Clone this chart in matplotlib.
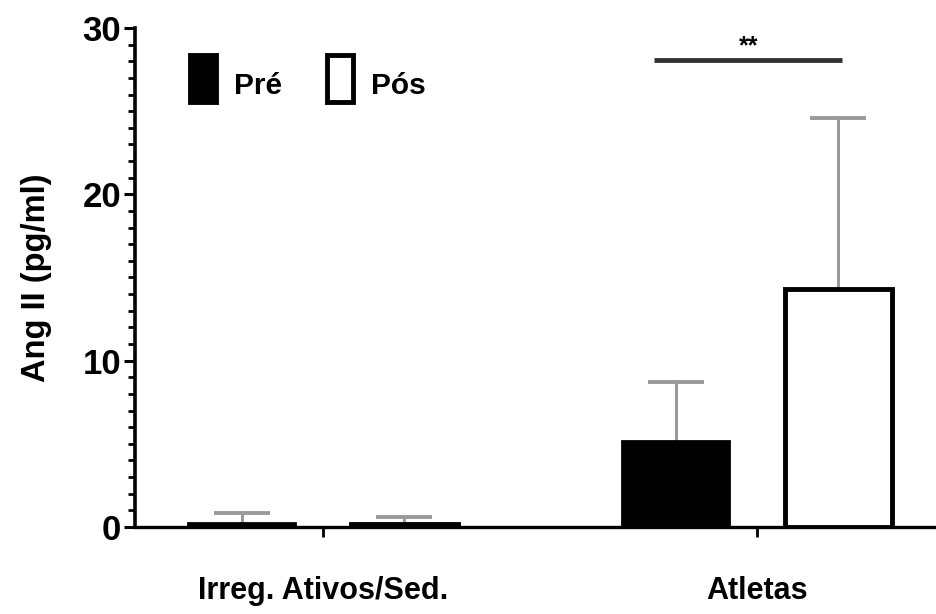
import matplotlib
matplotlib.use("Agg")
import matplotlib.pyplot as plt
import numpy as np
from matplotlib.patches import Rectangle

categories = ["Irreg. Ativos/Sed.", "Atletas"]
pre_means = [0.25, 5.2]
pre_err = [0.6, 3.5]
pos_means = [0.2, 14.3]
pos_err = [0.4, 10.3]
series_labels = ["Pré", "Pós"]
sig_label = "**"
sig_level = 28.1
y_ticks = [0, 10, 20, 30]

plt.rcParams['font.family'] = ['Liberation Sans', 'DejaVu Sans']
plt.rcParams['font.weight'] = 'bold'

fig = plt.figure(figsize=(9.37, 6.14), dpi=100)
ax = fig.add_axes([0.144, 0.1417, 0.856, 0.8127])

x = np.arange(len(categories))
off = 0.187
w = 0.2465
errkw = dict(fmt='none', ecolor='#9a9a9a', elinewidth=2.2, capsize=20, capthick=2.8, zorder=2)
for xs, m, e in [(x - off, pre_means, pre_err), (x + off, pos_means, pos_err)]:
    eb = ax.errorbar(xs, m, yerr=[np.zeros(len(e)), e], **errkw)
    for cl in eb[1]:
        if np.allclose(cl.get_ydata(), m):
            cl.set_visible(False)
ax.bar(x - off, pre_means, w, color='black', edgecolor='black', linewidth=2, zorder=3)
ax.bar(x + off, pos_means, w, color='white', edgecolor='black', linewidth=3.5, zorder=3)
# small values: pos bar of first group renders as a thin black bar
ax.bar(x[:1] + off, pos_means[:1], w, color='black', edgecolor='black', linewidth=2, zorder=4)

ax.set_xlim(-0.433, 1.415)
ax.set_ylim(0, 30)
ax.set_yticks(y_ticks)
ax.set_yticks(np.arange(0, 31, 1), minor=True)
ax.tick_params(axis='y', which='major', length=8, width=2.2, labelsize=25, pad=2)
ax.tick_params(axis='y', which='minor', length=5, width=2)
ax.set_xticks(x)
ax.set_xticklabels(["", ""])
ax.tick_params(axis='x', which='major', length=7, width=2, direction='out')
for i, c in enumerate(categories):
    ax.text(x[i], -3.85, c, ha='center', va='center', fontsize=22, fontweight='bold',
            clip_on=False)
ax.spines['top'].set_visible(False)
ax.spines['right'].set_visible(False)
ax.spines['left'].set_linewidth(2.6)
ax.spines['bottom'].set_linewidth(2.4)
ax.set_ylabel("Ang II (pg/ml)", fontsize=23.5, fontweight='bold', labelpad=22)

# significance
x0, x1 = x[1] - off - 0.05, x[1] + off + 0.01
ax.plot([x0, x1], [sig_level, sig_level], color='#333333', lw=3.5,
        solid_capstyle='butt', zorder=5)
ax.text((x0 + x1) / 2, sig_level + 0.05, sig_label, ha='center',
        va='bottom', fontsize=18, fontweight='bold')

# legend
tr = ax.transAxes
lx = [(190 - 135) / 802, (327 - 135) / 802]
colors = ['black', 'white']
for i, lab in enumerate(series_labels):
    r = Rectangle((lx[i], (527 - 102) / 499), 26 / 802, 47 / 499, transform=tr,
                  facecolor=colors[i], edgecolor='black', linewidth=3.5, clip_on=False)
    ax.add_patch(r)
    ax.text(lx[i] + 44 / 802, (527 - 86) / 499, lab, transform=tr, fontsize=21.5,
            fontweight='bold', va='center', ha='left')

fig.savefig("out.png", dpi=100)
